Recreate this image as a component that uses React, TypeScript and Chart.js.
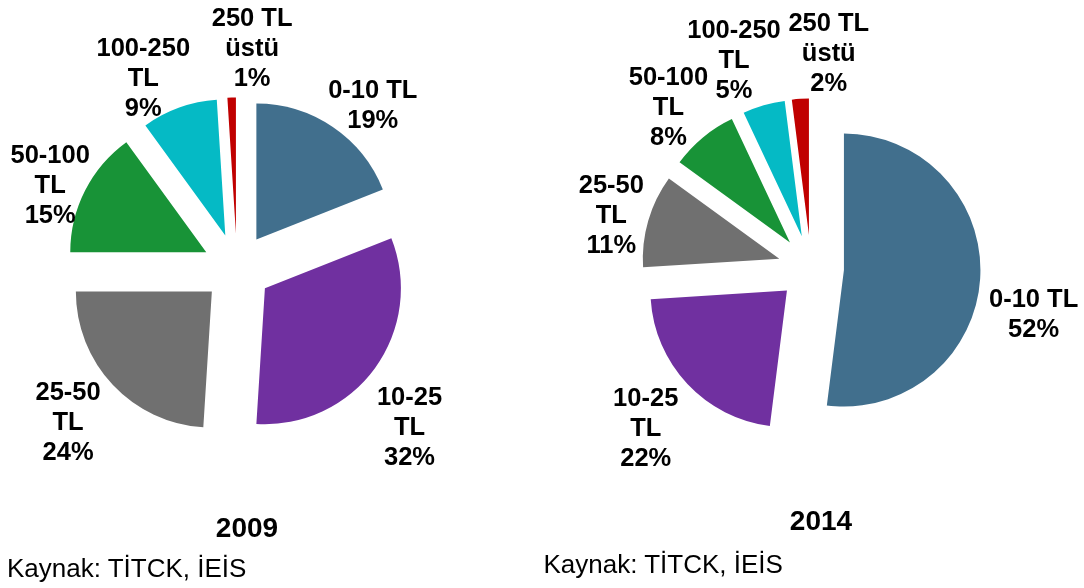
import React, { useEffect, useRef } from "react";
import { Chart, registerables } from "chart.js";

Chart.register(...registerables);

// ---- Data ----
const CATEGORIES = ["0-10 TL", "10-25 TL", "25-50 TL", "50-100 TL", "100-250 TL", "250 TL üstü"];
const CATEGORY_LINES = [["0-10 TL"], ["10-25", "TL"], ["25-50", "TL"], ["50-100", "TL"], ["100-250", "TL"], ["250 TL", "üstü"]];
const SHARES_2009 = [19, 32, 24, 15, 9, 1];
const SHARES_2014 = [52, 22, 11, 8, 5, 2];
const YEARS = ["2009", "2014"];
const SOURCE = "Kaynak: TİTCK, İEİS";

// ---- Styles ----
const COLORS = ["#416F8D", "#7030A0", "#707070", "#189337", "#05BAC5", "#C00000"];
const FONT = "'Liberation Sans', Arial, Helvetica, sans-serif";
const LABEL_SIZE = 25.5;
const LINE_H = 30;

// label placement hints: distance from pie centre and angle nudge (deg) from slice mid-angle
const LABEL_LAYOUT_2009 = [
  { dist: 213, da: 5.4 },
  { dist: 234, da: 6.5 },
  { dist: 228, da: 1.0 },
  { dist: 205, da: -2.7 },
  { dist: 213, da: -6.3 },
  { dist: 222, da: 5.7 },
];
const LABEL_LAYOUT_2014 = [
  { dist: 227, da: 7.7 },
  { dist: 229, da: -0.6 },
  { dist: 207, da: -0.9 },
  { dist: 216, da: -1.7 },
  { dist: 223, da: -4.0 },
  { dist: 217, da: 8.3 },
];

const explodePlugin = {
  id: "explodeLabels",
  beforeDatasetsDraw(chart: any, _args: any, opts: any) {
    const { chartArea } = chart;
    const cx = (chartArea.left + chartArea.right) / 2;
    const cy = (chartArea.top + chartArea.bottom) / 2;
    const meta = chart.getDatasetMeta(0);
    const t = opts.explode;
    meta.data.forEach((el: any) => {
      const mid = (el.startAngle + el.endAngle) / 2;
      el.x = cx + t * Math.cos(mid);
      el.y = cy + t * Math.sin(mid);
    });
  },
  afterDatasetsDraw(chart: any, _args: any, opts: any) {
    const { chartArea, ctx } = chart;
    const cx = (chartArea.left + chartArea.right) / 2;
    const cy = (chartArea.top + chartArea.bottom) / 2;
    const meta = chart.getDatasetMeta(0);
    const values = chart.data.datasets[0].data;
    ctx.save();
    ctx.font = `bold ${LABEL_SIZE}px ${FONT}`;
    ctx.fillStyle = "#000000";
    ctx.textAlign = "center";
    ctx.textBaseline = "alphabetic";
    const capH = LABEL_SIZE * 0.716;
    meta.data.forEach((el: any, i: number) => {
      const lay = opts.layout[i];
      const ang = (el.startAngle + el.endAngle) / 2 + (lay.da * Math.PI) / 180;
      const lx = cx + lay.dist * Math.cos(ang);
      const ly = cy + lay.dist * Math.sin(ang);
      const lines = [...CATEGORY_LINES[i], values[i] + "%"];
      const n = lines.length;
      const b1 = ly - ((n - 1) * LINE_H - capH) / 2;
      lines.forEach((ln: string, k: number) => ctx.fillText(ln, lx, b1 + k * LINE_H));
    });
    ctx.restore();
  },
};

type PieProps = {
  values: number[];
  left: number;
  width: number;
  height: number;
  padBottom: number;
  radius: number;
  explode: number;
  layout: { dist: number; da: number }[];
};

function ExplodedPie({ values, left, width, height, padBottom, radius, explode, layout }: PieProps) {
  const ref = useRef<HTMLCanvasElement | null>(null);
  useEffect(() => {
    if (!ref.current) return;
    const chart = new Chart(ref.current, {
      type: "pie",
      data: {
        labels: CATEGORIES,
        datasets: [
          {
            data: values,
            backgroundColor: COLORS,
            borderWidth: 0,
            offset: 0,
            hoverOffset: 0,
            radius: radius,
          } as any,
        ],
      },
      options: {
        responsive: false,
        animation: false,
        events: [],
        devicePixelRatio: 1,
        layout: { padding: { left: 0, right: 0, top: 0, bottom: padBottom } },
        plugins: {
          legend: { display: false },
          tooltip: { enabled: false },
          title: { display: false },
          explodeLabels: { explode, layout },
        } as any,
      },
      plugins: [explodePlugin as any],
    });
    return () => chart.destroy();
  }, []);
  return (
    <canvas
      ref={ref}
      width={width}
      height={height}
      style={{ position: "absolute", left, top: 0, width, height }}
    />
  );
}

export default function App() {
  const titleStyle = (cx: number, baseline: number): React.CSSProperties => ({
    position: "absolute",
    left: cx - 100,
    width: 200,
    top: baseline - 0.8465 * 28,
    fontFamily: FONT,
    fontWeight: "bold",
    fontSize: 28,
    lineHeight: "28px",
    textAlign: "center",
    color: "#000",
    whiteSpace: "nowrap",
  });
  const srcStyle = (x: number, baseline: number): React.CSSProperties => ({
    position: "absolute",
    left: x,
    top: baseline - 0.8465 * 26,
    fontFamily: FONT,
    fontSize: 26,
    lineHeight: "26px",
    color: "#000",
    whiteSpace: "nowrap",
  });
  return (
    <div
      style={{
        position: "fixed",
        left: 0,
        top: 0,
        width: 1084,
        height: 588,
        background: "#ffffff",
        overflow: "hidden",
      }}
    >
      <ExplodedPie
        values={SHARES_2009}
        left={0}
        width={474}
        height={588}
        padBottom={52}
        radius={136}
        explode={34.5}
        layout={LABEL_LAYOUT_2009}
      />
      <ExplodedPie
        values={SHARES_2014}
        left={538}
        width={546}
        height={588}
        padBottom={52}
        radius={136.5}
        explode={33}
        layout={LABEL_LAYOUT_2014}
      />
      <div style={titleStyle(247, 538)}>{YEARS[0]}</div>
      <div style={titleStyle(821, 531)}>{YEARS[1]}</div>
      <div style={srcStyle(7, 577)}>{SOURCE}</div>
      <div style={srcStyle(543.5, 573)}>{SOURCE}</div>
    </div>
  );
}
